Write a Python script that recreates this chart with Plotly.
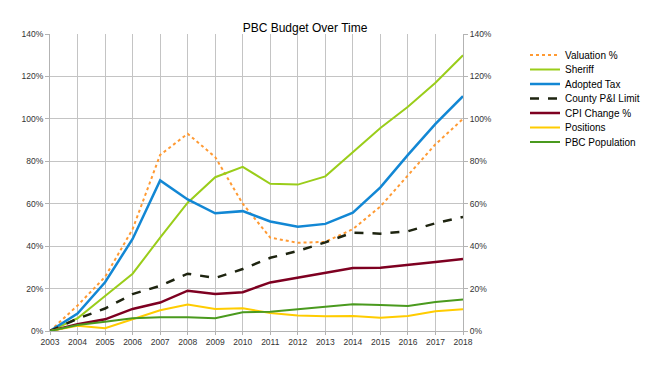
import plotly.graph_objects as go

years = list(range(2003, 2019))
valuation = [0, 12, 25.5, 48, 83, 93, 82, 60, 44, 41.6, 42, 48, 58.7, 73.6, 88, 100]
sheriff = [0, 6, 16.5, 27, 44, 60.5, 72.5, 77.4, 69.4, 69, 72.9, 84.4, 95.7, 105.7, 117, 130]
adopted_tax = [0, 8.2, 23, 43.4, 71, 62, 55.5, 56.5, 51.6, 49.2, 50.5, 55.8, 67.7, 83, 97.6, 110.7]
county_pi = [0, 5.8, 10.6, 17.4, 21.3, 27, 25, 29.2, 34.5, 37.7, 41.8, 46.4, 45.9, 47, 50.8, 53.8]
cpi = [0, 3.2, 5.5, 10.4, 13.4, 19, 17.4, 18.3, 22.9, 25.2, 27.4, 29.7, 29.8, 31, 32.5, 33.9]
positions = [0, 2.5, 1.3, 5.4, 9.8, 12.5, 10.4, 10.7, 8.5, 7.3, 6.9, 7.1, 6.2, 7.1, 9.3, 10.3]
population = [0, 2.8, 4.4, 6, 6.5, 6.5, 6, 8.8, 9.1, 10.3, 11.4, 12.6, 12.3, 11.8, 13.7, 14.8]

series = [
    ("Valuation %", valuation, "#FF9A33", "dot", 2),
    ("Sheriff", sheriff, "#9ACD1A", "solid", 2),
    ("Adopted Tax", adopted_tax, "#1287D4", "solid", 2.5),
    ("County P&I Limit", county_pi, "#1E2410", "dash", 2.5),
    ("CPI Change %", cpi, "#7E0021", "solid", 2.5),
    ("Positions", positions, "#FFCC00", "solid", 2),
    ("PBC Population", population, "#4A9A1E", "solid", 2),
]

# the page body has an 8px margin, so the figure is laid out 8px up/left of the window coords
OFF = 8
W, H = 650 - OFF, 365 - OFF
L, R, T, B = 50 - OFF, 463 - OFF, 34 - OFF, 331 - OFF
legend_text_y = [y - OFF for y in [55, 69.5, 84, 98.5, 113, 127.5, 142]]
legend_left_px = 525 - OFF

fig = go.Figure()
legend_layout = {}
for i, (name, vals, color, dash, w) in enumerate(series):
    lg = "legend" if i == 0 else f"legend{i + 1}"
    fig.add_trace(go.Scatter(x=years, y=[v / 100 for v in vals], name=name, mode="lines",
                             line=dict(color=color, dash=dash, width=w), legend=lg))
    legend_layout[lg] = dict(
        x=(legend_left_px - L) / (R - L), xanchor="left",
        y=(B - legend_text_y[i]) / (B - T), yanchor="middle",
        font=dict(family="Liberation Sans, Arial, sans-serif", size=10, color="#000000"),
        bgcolor="rgba(0,0,0,0)", borderwidth=0, itemwidth=30,
    )
# invisible trace for the mirrored right axis
fig.add_trace(go.Scatter(x=years, y=[v / 100 for v in sheriff], yaxis="y2", mode="lines",
                         line=dict(width=0), opacity=0, showlegend=False, hoverinfo="skip"))

axis_font = dict(family="Liberation Sans, Arial, sans-serif", size=8.5, color="#333333")
ticks = [0, 0.2, 0.4, 0.6, 0.8, 1.0, 1.2, 1.4]
fig.update_layout(
    width=W, height=H,
    margin=dict(l=L, r=W - R, t=T, b=H - B, autoexpand=False),
    paper_bgcolor="white", plot_bgcolor="white",
    title=dict(text="PBC Budget Over Time", x=(305 - OFF) / W, xanchor="center", y=1 - (28 - OFF) / H,
               yanchor="middle", font=dict(family="Liberation Sans, Arial, sans-serif", size=12, color="#000000")),
    xaxis=dict(range=[2003, 2018], tickmode="array", tickvals=years, ticktext=[str(y) for y in years],
               showgrid=True, gridcolor="#C4C4C4", gridwidth=1, zeroline=False, automargin=False,
               showline=True, linecolor="#B3B3B3", ticks="outside", ticklen=3, tickcolor="#B3B3B3",
               tickfont=axis_font),
    yaxis=dict(range=[0, 1.4], tickvals=ticks, tickformat=".0%", automargin=False,
               showgrid=True, gridcolor="#C4C4C4", gridwidth=1, zeroline=False,
               showline=True, linecolor="#B3B3B3", ticks="outside", ticklen=4, tickcolor="#B3B3B3",
               tickfont=axis_font),
    yaxis2=dict(range=[0, 1.4], overlaying="y", side="right", matches="y", automargin=False,
                tickvals=ticks, tickformat=".0%",
                showgrid=False, zeroline=False, showline=True, linecolor="#B3B3B3",
                ticks="outside", ticklen=4, tickcolor="#B3B3B3", tickfont=axis_font),
    showlegend=True,
    **legend_layout,
)

fig.write_html("out.html")
